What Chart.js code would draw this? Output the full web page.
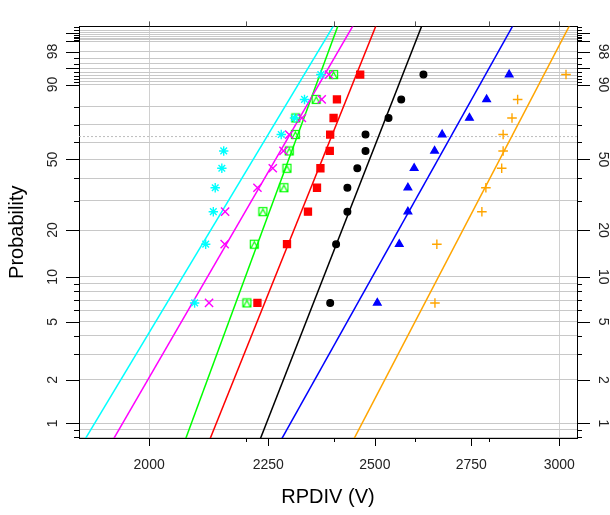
<!DOCTYPE html>
<html>
<head>
<meta charset="utf-8">
<script src="https://cdn.jsdelivr.net/npm/chart.js@4.4.1/dist/chart.umd.min.js"></script>
<style>
  html, body { margin: 0; padding: 0; background: #fff; }
  #wrap { width: 610px; height: 515px; }
</style>
</head>
<body>
<div id="wrap"><canvas id="plot" width="610" height="515"></canvas></div>
<script>
// cumulative probability (%) of each ranked sample (median ranks, n = 10)
var ranks = [6.7, 16.3, 25.9, 35.6, 45.2, 54.8, 64.4, 74.0, 83.7, 93.3];

// RPDIV (V) of the ranked samples, one array per sample set
var cyanSet    = [2092, 2115, 2131, 2135, 2149, 2153, 2279, 2309, 2332, 2370];
var magentaSet = [2122, 2155, 2156, 2226, 2260, 2284, 2297, 2326, 2372, 2389];
var greenSet   = [2203, 2219, 2238, 2285, 2292, 2297, 2311, 2312, 2359, 2400];
var redSet     = [2226, 2292, 2340, 2361, 2369, 2391, 2392, 2400, 2408, 2464];
var blackSet   = [2392, 2406, 2433, 2433, 2457, 2477, 2477, 2534, 2566, 2623];
var blueSet    = [2506, 2561, 2583, 2583, 2599, 2652, 2672, 2745, 2792, 2855];
var orangeSet  = [2653, 2658, 2779, 2790, 2834, 2838, 2838, 2863, 2879, 3020];

// weibull fits (same order as the sets)
var fitShape = [27.0, 28.0, 44.0, 40.4, 41.5, 29.0, 31.1];
var fitScale = [2247, 2296, 2315, 2395, 2509, 2695, 2862];

// axis ticks
var probGrid = [0.8, 0.9, 1, 2, 3, 4, 5, 6, 7, 8, 9, 10, 20, 30, 40, 50, 60, 70, 80,
                90, 91, 92, 93, 94, 95, 96, 97, 98, 99, 99.1, 99.2, 99.3, 99.4, 99.5, 99.6, 99.7];
var probMajor  = [1, 2, 5, 10, 20, 50, 90, 95, 98, 99, 99.5];
var probLabels = [1, 2, 5, 10, 20, 50, 90, 98];
var xLabels = [2000, 2250, 2500, 2750, 3000];
var xMinor  = [2200, 2400, 2600, 2800];
var xTop    = [2000, 2200, 2400, 2600, 2800, 3000];
var xGrid   = [2000, 3000];

var xMin = 1866, xMax = 3053;
var yMin = -4.835, yMax = 1.767;   // weibull units

var FONT = "'Liberation Sans', Arial, sans-serif";

function wb(p) { return Math.log(-Math.log(1 - p / 100)); }

// pch 14 : square with triangle
function boxTri(col) {
  var c = document.createElement('canvas');
  c.width = 11; c.height = 11;
  var g = c.getContext('2d');
  g.strokeStyle = col; g.lineWidth = 1.2;
  g.strokeRect(1.5, 1.5, 8, 8);
  g.beginPath(); g.moveTo(2, 9.5); g.lineTo(5.5, 3); g.lineTo(9, 9.5); g.stroke();
  return c;
}

var sets = [
  { vals: cyanSet,    col: '#00ffff', style: 'star',     r: 4.7, fill: false },
  { vals: magentaSet, col: '#ff00ff', style: 'crossRot', r: 5.8, fill: false },
  { vals: greenSet,   col: '#00ff00', style: boxTri('#00ff00'), r: 5, fill: false },
  { vals: redSet,     col: '#ff0000', style: 'rect',     r: 4.9, fill: true },
  { vals: blackSet,   col: '#000000', style: 'circle',   r: 3.3, fill: true },
  { vals: blueSet,    col: '#0000ff', style: 'triangle', r: 4.3, fill: true },
  { vals: orangeSet,  col: '#ffa500', style: 'cross',    r: 4.8, fill: false }
];

var datasets = [];
sets.forEach(function (s) {
  datasets.push({
    type: 'scatter',
    data: s.vals.map(function (v, i) { return { x: v, y: wb(ranks[i]) }; }),
    pointStyle: s.style,
    pointRadius: s.r,
    pointBorderWidth: 1.4,
    pointBorderColor: s.col,
    pointBackgroundColor: s.fill ? s.col : 'rgba(0,0,0,0)',
    showLine: false
  });
});
sets.forEach(function (s, k) {
  var w0 = yMin - 0.3, w1 = yMax + 0.3;
  datasets.push({
    type: 'line',
    data: [
      { x: fitScale[k] * Math.exp(w0 / fitShape[k]), y: w0 },
      { x: fitScale[k] * Math.exp(w1 / fitShape[k]), y: w1 }
    ],
    borderColor: s.col,
    borderWidth: 1.5,
    pointRadius: 0,
    fill: false
  });
});
// 63.2 % reference
datasets.push({
  type: 'line',
  data: [{ x: xMin, y: 0 }, { x: xMax, y: 0 }],
  borderColor: '#bdbdbd',
  borderWidth: 1,
  borderDash: [2, 2],
  pointRadius: 0,
  fill: false
});

function px(v) { return Math.round(v) + 0.5; }

var tickMarks = {
  id: 'tickMarks',
  afterDraw: function (chart) {
    var ctx = chart.ctx, a = chart.chartArea;
    var ys = chart.scales.y, xs = chart.scales.x;
    ctx.save();
    ctx.lineWidth = 1;
    ctx.strokeStyle = '#000';
    ctx.beginPath();
    probGrid.forEach(function (p) {
      var py = px(ys.getPixelForValue(wb(p)));
      var len = probMajor.indexOf(p) >= 0 ? 13 : 5;
      ctx.moveTo(a.left - len, py); ctx.lineTo(a.left, py);
      ctx.moveTo(a.right, py); ctx.lineTo(a.right + len, py);
    });
    xLabels.forEach(function (v) {
      var x = px(xs.getPixelForValue(v));
      ctx.moveTo(x, a.bottom); ctx.lineTo(x, a.bottom + 8);
    });
    xMinor.forEach(function (v) {
      var x = px(xs.getPixelForValue(v));
      ctx.moveTo(x, a.bottom); ctx.lineTo(x, a.bottom + 4);
    });
    ctx.stroke();
    ctx.strokeStyle = '#555';
    ctx.beginPath();
    xTop.forEach(function (v) {
      var x = px(xs.getPixelForValue(v));
      ctx.moveTo(x, a.top - 5); ctx.lineTo(x, a.top);
    });
    ctx.stroke();
    ctx.restore();
  }
};

function probTicks(scale) {
  scale.ticks = probGrid.map(function (p) { return { value: wb(p) }; });
}
function probLabel(value, index) {
  var p = probGrid[index];
  return probLabels.indexOf(p) >= 0 ? String(p) : '';
}

new Chart(document.getElementById('plot'), {
  type: 'scatter',
  data: { datasets: datasets },
  options: {
    responsive: false,
    animation: false,
    events: [],
    layout: { padding: 0, autoPadding: false },
    plugins: { legend: { display: false }, tooltip: { enabled: false } },
    scales: {
      x: {
        type: 'logarithmic', position: 'bottom', min: xMin, max: xMax,
        afterBuildTicks: function (s) {
          s.ticks = xLabels.concat(xMinor).sort().map(function (v) { return { value: v }; });
        },
        afterFit: function (s) { s.height = 77; },
        ticks: {
          autoSkip: false, minRotation: 0, maxRotation: 0, padding: 19,
          color: '#222', font: { family: FONT, size: 14 },
          callback: function (v) { return xLabels.indexOf(v) >= 0 ? String(v) : ''; }
        },
        grid: {
          drawTicks: false, lineWidth: 1,
          color: function (c) { return c.tick && xGrid.indexOf(c.tick.value) >= 0 ? '#d0d0d0' : 'rgba(0,0,0,0)'; }
        },
        border: { display: true, color: '#000', width: 1 },
        title: {
          display: true, text: 'RPDIV (V)', color: '#000',
          font: { family: FONT, size: 20 }, padding: { top: 0, bottom: 6 }
        }
      },
      x2: {
        type: 'logarithmic', position: 'top', min: xMin, max: xMax,
        afterFit: function (s) { s.height = 9; },
        ticks: { display: false },
        grid: { drawOnChartArea: false, drawTicks: false },
        border: { display: true, color: '#000', width: 1 }
      },
      y: {
        type: 'linear', position: 'left', min: yMin, max: yMax,
        afterBuildTicks: probTicks,
        afterFit: function (s) { s.width = 79; },
        ticks: {
          autoSkip: false, minRotation: 90, maxRotation: 90, crossAlign: 'center', padding: 18,
          color: '#222', font: { family: FONT, size: 14 },
          callback: probLabel
        },
        grid: { drawTicks: false, color: '#c8c8c8', lineWidth: 1 },
        border: { display: true, color: '#000', width: 1 },
        title: {
          display: true, text: 'Probability', color: '#000',
          font: { family: FONT, size: 20 }, padding: { top: 5, bottom: 0 }
        }
      },
      y2: {
        type: 'linear', position: 'right', min: yMin, max: yMax,
        afterBuildTicks: probTicks,
        afterFit: function (s) { s.width = 33; },
        ticks: {
          autoSkip: false, minRotation: -90, maxRotation: -90, crossAlign: 'center', padding: 18,
          color: '#222', font: { family: FONT, size: 14 },
          callback: probLabel
        },
        grid: { drawOnChartArea: false, drawTicks: false },
        border: { display: true, color: '#000', width: 1 }
      }
    }
  },
  plugins: [tickMarks]
});
</script>
</body>
</html>
